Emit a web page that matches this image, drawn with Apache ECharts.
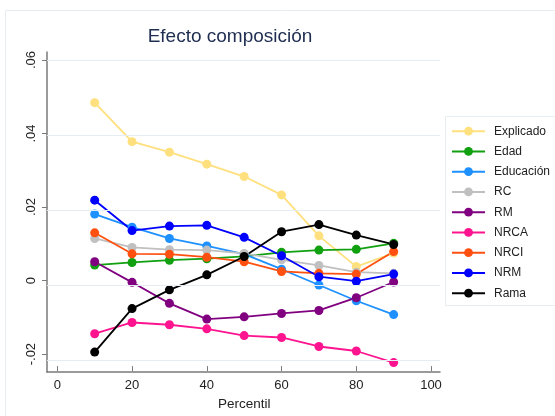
<!DOCTYPE html>
<html>
<head>
<meta charset="utf-8">
<script src="https://cdn.jsdelivr.net/npm/echarts@6/dist/echarts.min.js"></script>
<style>
  html, body { margin: 0; padding: 0; background: #fff; }
  #chart { width: 555px; height: 416px; }
</style>
</head>
<body>
<div id="chart"></div>
<script>
// Percentiles on the horizontal axis
const percentiles = [10, 20, 30, 40, 50, 60, 70, 80, 90];

// Composition effect by component
const explicado = [0.0486, 0.0382, 0.0354, 0.0322, 0.0289, 0.0240, 0.0131, 0.0049, 0.0085];
const edad      = [0.0053, 0.0060, 0.0066, 0.0070, 0.0076, 0.0087, 0.0093, 0.0095, 0.0111];
const educacion = [0.0189, 0.0154, 0.0124, 0.0104, 0.0082, 0.0042, 0.0000, -0.0042, -0.0079];
const rc        = [0.0124, 0.0100, 0.0094, 0.0093, 0.0084, 0.0067, 0.0052, 0.0034, 0.0031];
const rm        = [0.0062, 0.0007, -0.0049, -0.0091, -0.0085, -0.0076, -0.0068, -0.0034, 0.0008];
const nrca      = [-0.0130, -0.0100, -0.0106, -0.0117, -0.0135, -0.0140, -0.0164, -0.0176, -0.0207];
const nrci      = [0.0139, 0.0083, 0.0082, 0.0074, 0.0062, 0.0036, 0.0031, 0.0029, 0.0089];
const nrm       = [0.0226, 0.0145, 0.0157, 0.0159, 0.0127, 0.0078, 0.0022, 0.0010, 0.0029];
const rama      = [-0.0179, -0.0063, -0.0013, 0.0027, 0.0076, 0.0142, 0.0161, 0.0133, 0.0108];

// Axis ticks and their labels
const xTicks = [0, 20, 40, 60, 80, 100];
const yTicks = [-0.02, 0, 0.02, 0.04, 0.06];
const yTickLabels = ['-.02', '0', '.02', '.04', '.06'];

const seriesDefs = [
  { name: 'Explicado', data: explicado, color: '#FFE07E' },
  { name: 'Edad',      data: edad,      color: '#10A010' },
  { name: 'Educación', data: educacion, color: '#1E90FF' },
  { name: 'RC',        data: rc,        color: '#C0C0C0' },
  { name: 'RM',        data: rm,        color: '#800080' },
  { name: 'NRCA',      data: nrca,      color: '#FF1490' },
  { name: 'NRCI',      data: nrci,      color: '#FF5010' },
  { name: 'NRM',       data: nrm,       color: '#0000FF' },
  { name: 'Rama',      data: rama,      color: '#000000' }
];

const FONT = '"Liberation Sans", Arial, sans-serif';
const AXIS_GRAY = '#7a7a7a';
const GRID_LINE = '#e4edf2';

const chart = echarts.init(document.getElementById('chart'), null, { renderer: 'canvas' });

const lineSeries = seriesDefs.map(s => ({
  name: s.name,
  type: 'line',
  xAxisIndex: 0,
  yAxisIndex: 0,
  data: percentiles.map((p, i) => [p, s.data[i]]),
  symbol: 'circle',
  symbolSize: 9,
  showSymbol: true,
  color: s.color,
  lineStyle: { color: s.color, width: 1.8 },
  itemStyle: { color: s.color },
  emphasis: { disabled: true },
  animation: false,
  z: 3
}));

// Horizontal reference lines at each y tick
const gridLines = {
  name: '_grid',
  type: 'line',
  xAxisIndex: 0,
  yAxisIndex: 0,
  data: [],
  silent: true,
  z: 1,
  animation: false,
  markLine: {
    silent: true,
    symbol: 'none',
    animation: false,
    label: { show: false },
    lineStyle: { color: GRID_LINE, width: 1, type: 'solid' },
    data: yTicks.map(v => ({ yAxis: v }))
  }
};

const option = {
  animation: false,
  backgroundColor: '#ffffff',
  textStyle: { fontFamily: FONT },
  graphic: [
    {
      type: 'rect', z: -10, silent: true,
      shape: { x: 5.5, y: 10.5, width: 600, height: 500 },
      style: { fill: '#ffffff', stroke: '#e6eef1', lineWidth: 1 }
    },
    {
      type: 'rect', z: -5, silent: true,
      shape: { x: 445.5, y: 116.5, width: 200, height: 189 },
      style: { fill: '#ffffff', stroke: '#e6eef1', lineWidth: 1 }
    },
    {
      type: 'text', z: 10, silent: true,
      x: 230, y: 37,
      style: {
        text: 'Efecto composición',
        fontFamily: FONT, fontSize: 19,
        fill: '#1e2d50',
        align: 'center', verticalAlign: 'middle'
      }
    }
  ],
  legend: {
    orient: 'vertical',
    left: 451,
    top: 125.2,
    itemWidth: 33,
    itemHeight: 11,
    itemGap: 8.25,
    padding: 0,
    data: seriesDefs.map(s => s.name),
    textStyle: { fontFamily: FONT, fontSize: 12, color: '#222', lineHeight: 11, padding: [0, 0, 0, 4] },
    selectedMode: false
  },
  grid: [
    // plotting area (full framed region)
    { left: 47, right: 115, top: 52, bottom: 44, containLabel: false },
    // tick / label frame aligned with round values
    { left: 57.3, right: 124, top: 60, bottom: 56, containLabel: false }
  ],
  xAxis: [
    {
      type: 'value', gridIndex: 0,
      min: -2.76, max: 102.4,
      axisLine: { show: true, onZero: false, lineStyle: { color: AXIS_GRAY, width: 1.5 } },
      axisTick: { show: false },
      axisLabel: { show: false },
      splitLine: { show: false }
    },
    {
      type: 'value', gridIndex: 1,
      min: 0, max: 100, interval: 20,
      offset: 12,
      axisLine: { show: false, onZero: false },
      axisTick: { show: true, length: 5, lineStyle: { color: AXIS_GRAY, width: 1 } },
      axisLabel: {
        show: true, margin: 13, fontFamily: FONT, fontSize: 13, color: '#222',
        formatter: v => String(v)
      },
      splitLine: { show: false },
      name: 'Percentil',
      nameLocation: 'middle',
      nameGap: 23,
      nameTextStyle: { fontFamily: FONT, fontSize: 13.5, color: '#222' }
    }
  ],
  yAxis: [
    {
      type: 'value', gridIndex: 0,
      min: -0.0232, max: 0.0621,
      axisLine: { show: true, onZero: false, lineStyle: { color: AXIS_GRAY, width: 1.5 } },
      axisTick: { show: false },
      axisLabel: { show: false },
      splitLine: { show: false }
    },
    {
      type: 'value', gridIndex: 1,
      min: -0.02, max: 0.06, interval: 0.02,
      offset: 10.3,
      axisLine: { show: false, onZero: false },
      axisTick: { show: true, length: 5, lineStyle: { color: AXIS_GRAY, width: 1 } },
      axisLabel: {
        show: true, rotate: 90, margin: 9, fontFamily: FONT, fontSize: 13, color: '#222',
        formatter: (v, idx) => {
          const k = yTicks.findIndex(t => Math.abs(t - v) < 1e-9);
          return k >= 0 ? yTickLabels[k] : '';
        }
      },
      splitLine: { show: false }
    }
  ],
  series: [gridLines].concat(lineSeries)
};

chart.setOption(option);
</script>
</body>
</html>
